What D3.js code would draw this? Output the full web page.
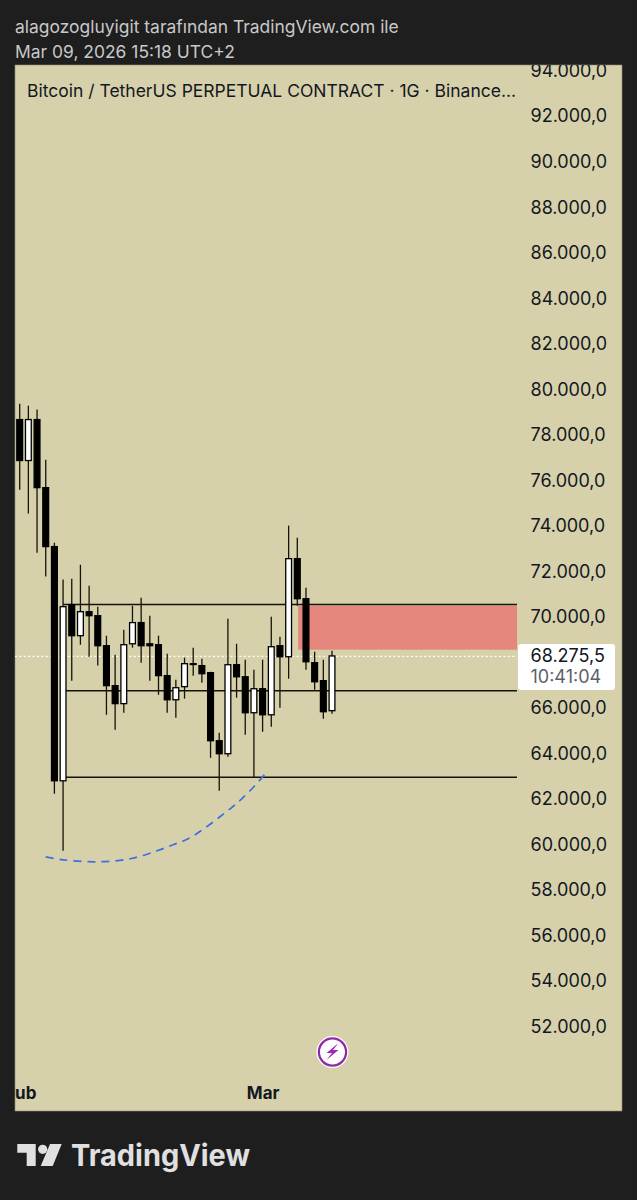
<!DOCTYPE html>
<html><head><meta charset="utf-8">
<script src="https://cdn.jsdelivr.net/npm/d3@7/dist/d3.min.js"></script>
<style>html,body{margin:0;padding:0;background:#1e1e1e}svg{display:block}</style>
</head><body><div id="chart"></div>
<script>
// Data
const startDate = "2026-02-01";
const opens  = [78660,76860,78660,75670,73080,62790,70530,69165,70220,70044,68725,66970,66180,68810,69740,68810,68770,67410,66350,66925,67935,67850,67540,64550,63980,67890,67360,65780,66835,65690,68725,68240,72550,70790,67980,67190,65870];
const highs  = [79360,79270,79100,76900,73250,71630,71670,72285,71360,70440,69165,68330,69430,70480,70835,70044,69165,68375,67230,68200,68640,68155,67580,64900,69910,68810,68110,67670,68110,70000,69120,74000,73470,71275,68460,68110,68505];
const lows   = [75580,74530,72810,71760,62220,59720,67190,68770,68240,67850,65690,65030,65780,68640,67980,67190,66570,65780,65560,66400,67410,67100,63800,62350,63850,66440,64810,62925,64945,65165,66000,67275,70480,67670,66790,65520,65735];
const closes = [76860,78660,75670,73080,62790,70440,69165,70220,70044,68725,66970,66180,68770,69740,68725,68725,67410,66350,66880,67935,67900,67495,64550,63980,67890,67360,65780,66835,65690,68680,68240,72550,70790,68020,67140,65825,68275.5];
const priceTicks = [94000,92000,90000,88000,86000,84000,82000,80000,78000,76000,74000,72000,70000,66000,64000,62000,60000,58000,56000,54000,52000];
const lastPrice = 68275.5;
const countdown = "10:41:04";
const levels = [{price:70530,from:5},{price:66750,from:5.3},{price:62950,from:5.3}];
const zoneTop = 70480, zoneBottom = 68550, zoneFrom = 32.1;
const curveDays   = [3,5,8.88,12.72,15.84,17.68,19.64,24.26,25.6,27.1,28.5];
const curvePrices = [59450,59320,59232,59364,59716,59980,60287,61560,62000,62573,63188];
const timeTicks = ["2026-02-01","2026-03-01"];
const timeLabels = ["Şub","Mar"];
const headerLines = ["alagozogluyigit tarafından TradingView.com ile","Mar 09, 2026 15:18 UTC+2"];
const title = "Bitcoin / TetherUS PERPETUAL CONTRACT · 1G · Binance...";

const W=637,H=1200, plot={x:15,y:65,w:607,h:1046}, paneRight=517;
const FONT='Inter, "Noto Sans", sans-serif';
const svg=d3.select("#chart").append("svg").attr("width",W).attr("height",H).style("background","#1e1e1e");
const defs=svg.append("defs");
defs.append("clipPath").attr("id","plotClip").append("rect").attr("x",plot.x).attr("y",plot.y).attr("width",plot.w).attr("height",plot.h);
defs.append("clipPath").attr("id","paneClip").append("rect").attr("x",plot.x).attr("y",plot.y).attr("width",paneRight-plot.x).attr("height",plot.h);

const t0=new Date(startDate+"T00:00:00Z");
const x=d3.scaleUtc().domain([t0,d3.utcDay.offset(t0,36)]).range([19.7,332]);
const xd=d=>x(new Date(+t0+d*864e5));
const y=d3.scaleLinear().domain([94000,52000]).range([70.4,1026.4]);

svg.selectAll(".hdr").data(headerLines).join("text")
  .attr("x",15).attr("y",(d,i)=>33+i*25).attr("fill","#c8c8c8")
  .attr("font-family",FONT).attr("font-size",17.45).text(d=>d);

svg.append("rect").attr("x",plot.x).attr("y",plot.y).attr("width",plot.w).attr("height",plot.h)
  .attr("fill","#d6d1aa").attr("stroke","#8d8a72").attr("stroke-width",.6);

const pane=svg.append("g").attr("clip-path","url(#paneClip)");
pane.append("rect").attr("x",xd(zoneFrom)).attr("width",paneRight-xd(zoneFrom))
  .attr("y",y(zoneTop)).attr("height",y(zoneBottom)-y(zoneTop)).attr("fill","#e5877d");
pane.selectAll(".lvl").data(levels).join("line")
  .attr("x1",d=>xd(d.from)).attr("x2",paneRight).attr("y1",d=>y(d.price)).attr("y2",d=>y(d.price))
  .attr("stroke","#14120a").attr("stroke-width",1.5);
pane.append("line").attr("x1",plot.x).attr("x2",paneRight).attr("y1",y(lastPrice)+.4).attr("y2",y(lastPrice)+.4)
  .attr("stroke","#fff").attr("stroke-width",1.2).attr("stroke-dasharray","2 2.4");

const candles=opens.map((o,i)=>({i,o,h:highs[i],l:lows[i],c:closes[i],up:closes[i]>=o}));
const cg=pane.selectAll(".c").data(candles).join("g");
cg.append("line").attr("x1",d=>xd(d.i)).attr("x2",d=>xd(d.i)).attr("y1",d=>y(d.h)).attr("y2",d=>y(d.l))
  .attr("stroke","#15130c").attr("stroke-width",1.3);
cg.append("rect").attr("x",d=>xd(d.i)-2.9).attr("width",5.8)
  .attr("y",d=>y(Math.max(d.o,d.c))).attr("height",d=>Math.max(.6,Math.abs(y(d.o)-y(d.c))))
  .attr("fill",d=>d.up?"#fff":"#000").attr("stroke","#000").attr("stroke-width",1.3);

const curve=d3.line().x(d=>xd(d)).y((d,i)=>y(curvePrices[i])).curve(d3.curveCatmullRom);
pane.append("path").attr("d",curve(curveDays)).attr("fill","none").attr("stroke","#3f6fe0")
  .attr("stroke-width",1.7).attr("stroke-dasharray","8 6");

// title
svg.append("text").attr("x",27).attr("y",97).attr("fill","#131722").attr("font-family",FONT)
  .attr("font-size",17.5).text(title);

// axes
const fmt=d3.formatLocale({decimal:",",thousands:".",grouping:[3],currency:["",""]}).format(",.1f");
const yAxis=d3.axisRight(y).tickValues(priceTicks).tickFormat(fmt).tickSize(0).tickPadding(0);
const yg=svg.append("g").attr("clip-path","url(#plotClip)").append("g").attr("transform","translate(530.5,0.3)").call(yAxis);
yg.select(".domain").remove();
yg.selectAll("text").attr("fill","#131722").attr("font-family",FONT).attr("font-size",18);

const xAxis=d3.axisBottom(x).tickValues(timeTicks.map(d=>new Date(d+"T00:00:00Z")))
  .tickFormat((d,i)=>timeLabels[i]).tickSize(0).tickPadding(0);
const xg=svg.append("g").attr("clip-path","url(#plotClip)").append("g").attr("transform","translate(0,1087)").call(xAxis);
xg.select(".domain").remove();
xg.selectAll("text").attr("fill","#131722").attr("font-family",FONT).attr("font-size",17).attr("font-weight",700);

// last-price label
svg.append("rect").attr("x",518).attr("y",644).attr("width",97).attr("height",46).attr("rx",3).attr("fill","#fff");
svg.append("text").attr("x",530.5).attr("y",y(lastPrice)+6.2).attr("fill","#131722").attr("font-family",FONT)
  .attr("font-size",18).text(fmt(lastPrice));
svg.append("text").attr("x",530.5).attr("y",683).attr("fill","#5d606b").attr("font-family",FONT)
  .attr("font-size",18).text(countdown);

// bolt badge
const b=svg.append("g").attr("transform","translate(332.5,1052)");
b.append("circle").attr("r",16).attr("fill","#fff");
b.append("circle").attr("r",13.6).attr("fill","#fff").attr("stroke","#8e2aa8").attr("stroke-width",2.2);
b.append("path").attr("d","M6,-9 L-6,1 L-0.5,1 L-6,8 L6,-2 L0.5,-2 Z").attr("fill","#9c2bb8");

// TradingView logo
const logo=svg.append("g").attr("fill","#e0e0e0");
logo.append("path").attr("d","M17.3,1144H35.7V1166H26.7V1152.7H17.3Z");
logo.append("circle").attr("cx",42.7).attr("cy",1149.3).attr("r",4.6);
logo.append("path").attr("d","M50,1144H61.7L52.7,1166H40.7Z");
logo.append("text").attr("x",71).attr("y",1166).attr("font-family",FONT).attr("font-size",30)
  .attr("font-weight",700).attr("textLength",179).attr("lengthAdjust","spacingAndGlyphs").text("TradingView");
</script></body></html>
